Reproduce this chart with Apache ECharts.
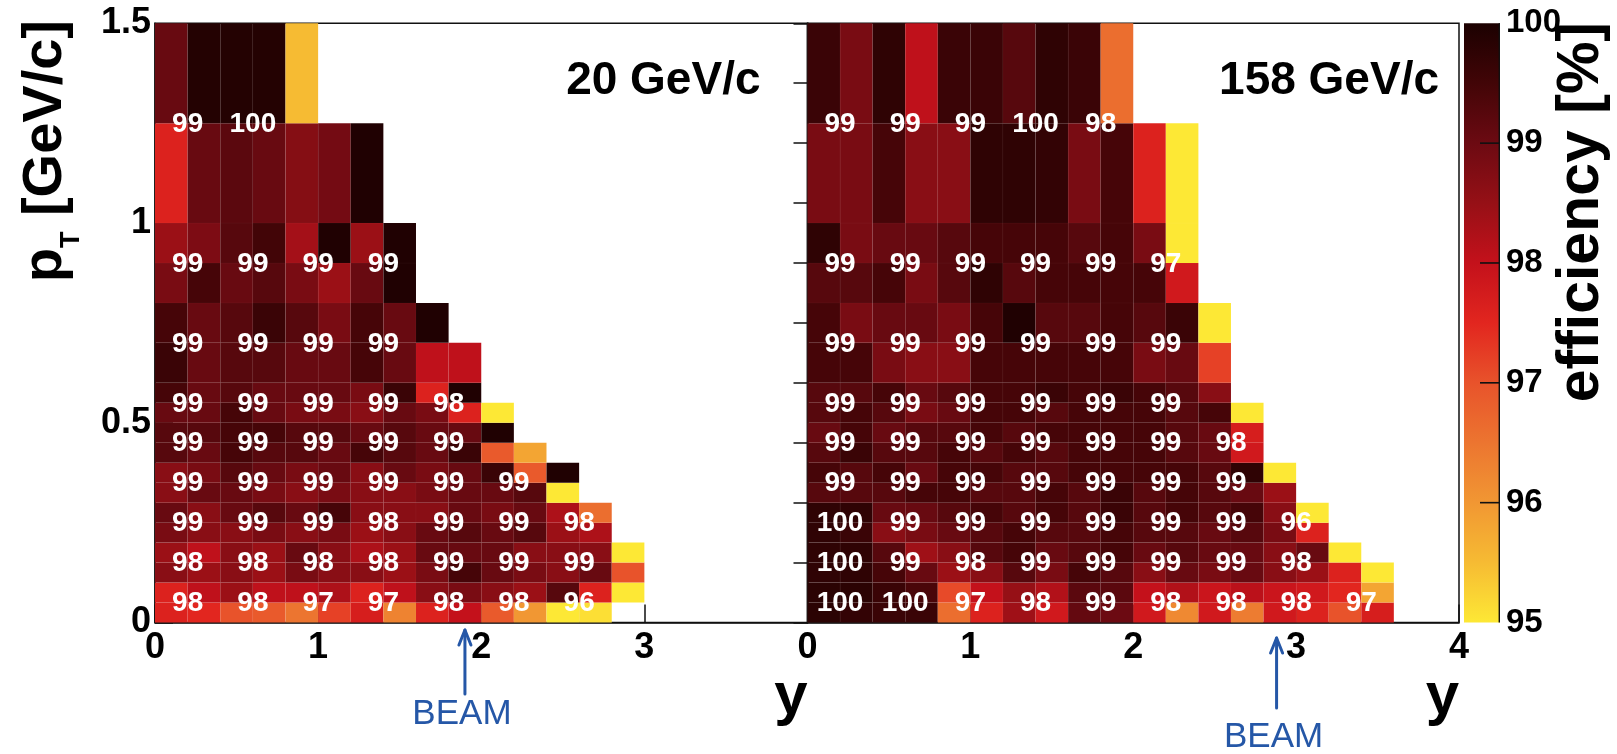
<!DOCTYPE html>
<html><head><meta charset="utf-8">
<script src="https://cdn.jsdelivr.net/npm/echarts@6/dist/echarts.min.js"></script>
<style>html,body{margin:0;padding:0;background:#fff}#c{width:1617px;height:754px}</style>
</head><body><div id="c"></div>
<script>
// ---------- DATA ----------
const rapidityEdges = [0,0.2,0.4,0.6,0.8,1.0,1.2,1.4,1.6,1.8,2.0,2.2,2.4,2.6,2.8,3.0,3.2,3.4,3.6];
const ptEdges = [0,0.05,0.1,0.15,0.2,0.25,0.3,0.35,0.4,0.45,0.5,0.55,0.6,0.7,0.8,0.9,1.0,1.25,1.5];

// efficiency per pT row (bottom -> top), per rapidity column (from y=0)
const eff20 = [
  [97.6,97.5,97.0,96.9,96.5,97.2,97.7,96.3,97.6,98.0,96.9,96.0,95.0,95.1],
  [97.6,98.05,98.45,98.05,98.05,98.25,97.6,98.05,98.65,98.85,98.65,98.45,99.25,97.6,95.0],
  [98.65,98.45,98.65,98.45,98.85,98.65,98.65,98.45,98.85,99.45,99.05,98.85,98.65,99.05,97.0],
  [98.45,98.05,98.65,98.45,99.05,98.65,98.25,98.45,99.05,99.05,99.05,98.65,98.65,98.65,95.0],
  [98.85,98.65,98.65,98.85,98.65,98.85,98.45,98.65,99.05,99.25,99.05,99.25,98.45,98.25],
  [99.05,98.65,99.05,99.25,99.05,99.45,98.65,98.65,98.65,99.05,98.85,99.05,98.25,96.6],
  [98.65,99.05,99.05,98.85,98.65,98.85,98.65,98.65,98.85,99.05,99.05,99.25,95.0],
  [98.65,98.85,99.25,99.05,98.85,99.05,98.65,99.05,98.85,99.05,99.6,96.9,99.95],
  [99.25,99.05,99.45,99.25,99.25,99.05,99.45,99.25,99.05,99.6,96.9,95.8],
  [99.25,99.25,99.45,99.45,99.25,99.25,99.05,99.25,99.05,99.05,99.95],
  [99.05,99.05,99.45,99.05,98.85,98.85,98.65,99.05,98.85,97.6,95.0],
  [99.45,99.05,99.25,99.05,99.05,99.05,98.85,99.6,97.6,99.95],
  [99.6,99.05,99.25,99.25,99.05,99.05,99.45,99.05,98.05,98.05],
  [99.45,99.05,99.25,99.6,99.25,98.85,99.45,99.05,99.95],
  [98.85,99.45,99.05,99.25,98.85,98.45,99.05,99.95],
  [98.45,98.8,99.25,99.5,98.35,99.95,98.45,99.95],
  [97.6,99.05,99.2,99.05,98.7,98.9,99.95],
  [99.05,99.9,99.9,99.9,95.5]
];
const eff158 = [
  [99.8,99.7,99.6,99.6,96.6,97.6,98.4,97.8,99.1,99.0,97.8,96.2,97.8,96.4,97.8,97.6,97.0,97.7],
  [99.8,99.8,99.6,99.4,97.1,98.0,98.5,98.2,99.2,99.2,98.0,98.2,97.9,98.1,97.9,97.8,97.5,95.8],
  [99.75,99.75,99.45,99.05,98.45,98.65,99.25,98.85,99.45,99.25,98.65,99.05,98.85,99.05,98.65,98.45,97.6,95.0],
  [99.75,99.75,99.25,98.4,98.65,99.25,99.45,99.05,99.25,99.45,99.05,99.25,99.05,99.05,98.65,99.05,95.0],
  [99.75,99.6,98.65,98.85,99.05,99.25,99.45,99.25,99.25,99.45,99.25,99.25,99.05,99.25,98.85,97.6],
  [99.75,99.75,99.05,99.05,99.25,99.45,99.25,99.45,99.25,99.6,99.25,99.45,99.25,99.45,98.65,95.0],
  [99.25,99.25,99.25,99.45,99.45,99.25,99.25,99.45,99.25,99.6,99.25,99.45,99.25,99.05,98.45],
  [99.45,99.25,99.45,99.05,99.45,99.45,99.25,99.25,99.45,99.45,99.45,99.45,99.25,99.75,95.0],
  [99.25,99.6,99.25,99.25,99.45,99.25,99.45,99.25,99.45,99.45,99.45,99.25,99.05,97.8],
  [99.05,99.45,99.05,99.25,99.25,99.45,99.25,99.45,99.45,99.45,99.45,99.25,99.05,97.7],
  [99.25,99.45,99.25,98.85,99.05,99.45,99.45,99.25,99.45,99.45,99.45,99.25,99.45,95.0],
  [99.25,99.25,99.45,99.05,99.25,99.45,99.45,99.6,99.45,99.6,99.45,99.25,98.65],
  [99.45,99.45,98.85,98.65,98.65,99.45,99.45,99.45,99.45,99.45,98.85,99.05,97.2],
  [99.45,98.85,99.05,99.05,98.85,99.45,99.95,99.25,99.25,99.45,99.25,99.6,95.0],
  [99.25,99.25,99.45,98.85,99.25,99.75,99.25,99.45,99.45,99.45,99.45,97.8],
  [99.75,98.85,99.05,99.05,99.25,99.45,99.45,99.45,99.25,99.45,98.85,95.0],
  [98.85,98.85,99.45,98.65,98.65,99.75,99.75,99.7,98.85,99.45,97.6,95.0],
  [99.6,98.85,99.75,98.05,99.6,99.6,99.25,99.75,99.6,96.6]
];

// printed (rounded) efficiencies in coarse bins
const labelRapidity = [0.2,0.6,1.0,1.4,1.8,2.2,2.6,3.0,3.4];
const labelPt = [0.05,0.15,0.25,0.35,0.45,0.55,0.7,0.9,1.25];
const labels20 = [
  [98,98,97,97,98,98,96],
  [98,98,98,98,99,99,99],
  [99,99,99,98,99,99,98],
  [99,99,99,99,99,99],
  [99,99,99,99,99],
  [99,99,99,99,98],
  [99,99,99,99],
  [99,99,99,99],
  [99,100]
];
const labels158 = [
  [100,100,97,98,99,98,98,98,97],
  [100,99,98,99,99,99,99,98],
  [100,99,99,99,99,99,99,96],
  [99,99,99,99,99,99,99],
  [99,99,99,99,99,99,98],
  [99,99,99,99,99,99],
  [99,99,99,99,99,99],
  [99,99,99,99,99,97],
  [99,99,99,100,98]
];
const panelTitles = ['20 GeV/c', '158 GeV/c'];
const beamRapidity = [1.9, 2.88];
const effRange = [95, 100];
const colorbarTicks = [96, 97, 98, 99];
const palette = ['#fde835','#f6bb33','#f19733','#ec7530','#e8532b','#e2261f','#c4111b','#961016','#6c0a12','#420507','#1c0101'];

// ---------- BUILD ----------
function cellData(eff){
  const out = [];
  eff.forEach((row, r) => row.forEach((v, c) => {
    if (v != null) out.push([rapidityEdges[c], rapidityEdges[c+1], ptEdges[r], ptEdges[r+1], v]);
  }));
  return out;
}
function labelData(lbl){
  const out = [];
  lbl.forEach((row, r) => row.forEach((v, c) => out.push([labelRapidity[c], labelPt[r], v])));
  return out;
}
const FONT = '"Liberation Sans", Arial, sans-serif';
const INK = '#111';
const CB = {left:1464, width:36, top:23.3, height:599.2};

function rectItem(params, api){
  const a = api.coord([api.value(0), api.value(3)]);
  const b = api.coord([api.value(1), api.value(2)]);
  return {type:'rect', shape:{x:a[0], y:a[1], width:b[0]-a[0], height:b[1]-a[1]},
    style:{fill: api.visual('color'), stroke:'rgba(255,255,255,0.05)', lineWidth:0.6}};
}
function textItem(params, api){
  const p = api.coord([api.value(0), api.value(1)]);
  return {type:'text', x:p[0], y:p[1]+1, style:{text:String(api.value(2)), fill:'#fff',
    font:'bold 28px ' + FONT, align:'center', verticalAlign:'middle'}};
}

const axisLine = {show:true, onZero:false, lineStyle:{color:INK, width:1.5}};
const tickLabel = {color:'#000', fontFamily:FONT, fontWeight:'bold', fontSize:36};

const chart = echarts.init(document.getElementById('c'), null, {renderer:'canvas'});
const option = {
  animation:false,
  backgroundColor:'#fff',
  grid:[
    {left:155, top:23.3, width:652.5, height:599.2, show:true, borderColor:INK, borderWidth:1.5, backgroundColor:'transparent', outerBoundsMode:'none'},
    {left:807.5, top:23.3, width:651.5, height:599.2, show:true, borderColor:INK, borderWidth:1.5, backgroundColor:'transparent', outerBoundsMode:'none'},
    {left:CB.left, top:CB.top, width:CB.width, height:CB.height, outerBoundsMode:'none'}
  ],
  xAxis:[
    {gridIndex:0, type:'value', min:0, max:4, interval:1, axisLine, splitLine:{show:false},
     axisTick:{show:true, inside:true, length:18, lineStyle:{color:INK, width:1.5}},
     axisLabel:Object.assign({margin:8, showMinLabel:true, showMaxLabel:true, formatter:v => v === 4 ? '' : String(v)}, tickLabel)},
    {gridIndex:1, type:'value', min:0, max:4, interval:1, axisLine, splitLine:{show:false},
     axisTick:{show:true, inside:true, length:18, lineStyle:{color:INK, width:1.5}},
     axisLabel:Object.assign({margin:8, showMinLabel:true, showMaxLabel:true}, tickLabel)},
    {gridIndex:2, type:'value', min:1, max:2, show:false}
  ],
  yAxis:[
    {gridIndex:0, type:'value', min:0, max:1.5, interval:0.5, axisLine, splitLine:{show:false},
     axisTick:{show:true, inside:true, length:18, lineStyle:{color:INK, width:1.5}},
     axisLabel:Object.assign({margin:4, showMinLabel:true, showMaxLabel:true}, tickLabel)},
    {gridIndex:1, type:'value', min:0, max:1.5, interval:0.15, axisLine, splitLine:{show:false},
     axisTick:{show:true, inside:false, length:14, lineStyle:{color:INK, width:1.5}},
     axisLabel:{show:false}},
    {gridIndex:2, type:'value', min:effRange[0], max:effRange[1], interval:1, position:'right',
     axisLine:{show:false, onZero:false}, splitLine:{show:false},
     axisTick:{show:false},
     axisLabel:Object.assign({margin:6}, tickLabel, {fontSize:33, showMinLabel:true, showMaxLabel:true})}
  ],
  visualMap:{
    type:'continuous', show:false, min:effRange[0], max:effRange[1], dimension:4, seriesIndex:[0,1],
    inRange:{color:palette}
  },
  series:[
    {type:'custom', name:'20 GeV/c', xAxisIndex:0, yAxisIndex:0, data:cellData(eff20), encode:{x:[0,1], y:[2,3]}, renderItem:rectItem, silent:true, z:2},
    {type:'custom', name:'158 GeV/c', xAxisIndex:1, yAxisIndex:1, data:cellData(eff158), encode:{x:[0,1], y:[2,3]}, renderItem:rectItem, silent:true, z:2},
    {type:'custom', xAxisIndex:0, yAxisIndex:0, data:labelData(labels20), encode:{x:0, y:1}, renderItem:textItem, silent:true, z:4},
    {type:'custom', xAxisIndex:1, yAxisIndex:1, data:labelData(labels158), encode:{x:0, y:1}, renderItem:textItem, silent:true, z:4},
    {type:'line', xAxisIndex:2, yAxisIndex:2, data:[], silent:true}
  ]
};
chart.setOption(option);

// ---------- ANNOTATIONS ----------
const BLUE = '#2557a7';
const graphics = [];
const panelEnd = [chart.convertToPixel({xAxisIndex:0, yAxisIndex:0}, [4, 0]), chart.convertToPixel({xAxisIndex:1, yAxisIndex:1}, [4, 0])];
panelTitles.forEach((t, i) => {
  graphics.push({type:'text', x: panelEnd[i][0] - (i === 0 ? 47 : 20), y: 81,
    style:{text:t, font:'bold 46px ' + FONT, fill:'#000', align:'right', verticalAlign:'middle'}});
  graphics.push({type:'text', x: panelEnd[i][0], y: 697,
    style:{text:'y', font:'bold 60px ' + FONT, fill:'#000', align:'right', verticalAlign:'middle'}});
});
// colour bar: gradient strip (same palette as the visual map), right edge and tick marks on top
const cbRight = CB.left + CB.width;
const cbY = v => CB.top + CB.height * (effRange[1] - v) / (effRange[1] - effRange[0]);
const stops = palette.map((c, i) => ({offset: i / (palette.length - 1), color: c}));
graphics.push({type:'rect', z:1, shape:{x:CB.left, y:CB.top, width:CB.width, height:CB.height},
  style:{fill: new echarts.graphic.LinearGradient(0, 1, 0, 0, stops)}});
graphics.push({type:'rect', z:5, shape:{x:cbRight - 1.4, y:CB.top, width:1.4, height:CB.height}, style:{fill:INK}});
colorbarTicks.forEach(v => {
  graphics.push({type:'rect', z:5, shape:{x:cbRight - 20, y:cbY(v) - 0.8, width:20, height:1.6}, style:{fill:INK}});
});
// pT axis title
graphics.push({type:'text', x:46, y:20, rotation:Math.PI/2,
  style:{text:'{a|p}{t|T}{a| [GeV/c]}', align:'right', verticalAlign:'middle',
    rich:{a:{font:'bold 56px ' + FONT, fill:'#000', lineHeight:56, verticalAlign:'top'},
          t:{font:'bold 27px ' + FONT, fill:'#000', lineHeight:27, verticalAlign:'top', padding:[40,0,0,0]}}}});
// colour bar title
graphics.push({type:'text', x:1582, y:22, rotation:Math.PI/2,
  style:{text:'efficiency [%]', font:'bold 59px ' + FONT, fill:'#000', align:'right', verticalAlign:'middle'}});
// beam rapidity arrows
const arrowGeom = [{top:630, bottom:694, textY:714}, {top:638, bottom:708, textY:737}];
beamRapidity.forEach((yb, i) => {
  const p = chart.convertToPixel({xAxisIndex:i, yAxisIndex:i}, [yb, 0]);
  const g = arrowGeom[i];
  graphics.push({type:'polyline', shape:{points:[[p[0], g.bottom], [p[0], g.top]]}, style:{stroke:BLUE, lineWidth:3, lineCap:'round'}});
  graphics.push({type:'polyline', shape:{points:[[p[0]-6, g.top+15], [p[0], g.top], [p[0]+6, g.top+15]]}, style:{stroke:BLUE, lineWidth:3, lineCap:'round', lineJoin:'round', fill:null}});
  graphics.push({type:'text', x:p[0]-3, y:g.textY, style:{text:'BEAM', font:'35px ' + FONT, fill:BLUE, align:'center', verticalAlign:'middle'}});
});
chart.setOption({graphic:graphics});
</script></body></html>
